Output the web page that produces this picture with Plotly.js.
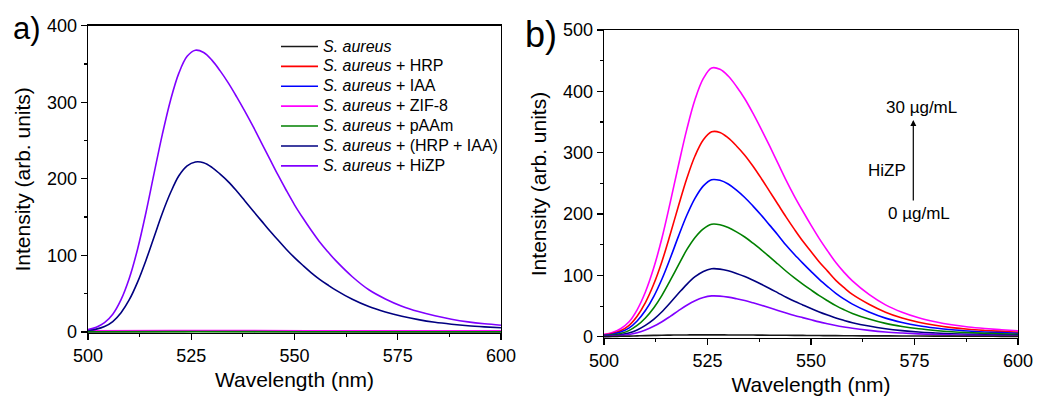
<!DOCTYPE html>
<html><head><meta charset="utf-8">
<script src="https://cdn.plot.ly/plotly-3.0.1.min.js"></script>
<style>html,body{margin:0;padding:0;background:#fff}#chart{width:1037px;height:396px}</style>
</head><body><div id="chart"></div>
<script>
// ---------- shared wavelength grid (nm) ----------
const wl = [500,502,504,506,508,510,512,514,516,518,520,522,524,526,528,530,532,534,536,538,540,542,544,546,548,550,552,554,556,558,560,564,568,572,576,580,584,588,592,596,600];

// ---------- Panel a ----------
const aHiZP = [3,6,12,23,42,70,108,155,207,258,303,338,360,368,365,355,341,325,307,288,268,247,226,205,185,166,149,133,118,105,93,72,55,43,33.5,26.5,21,16.5,13,10.5,8.7];
const aHrpIaa = [2,3.6,7,13.5,25,42,65,93,124,155,182,204,217,222,221,215,206,196,184,171,158,145,132,120,108,97,87,77.5,69,61.5,54.5,42.5,33,26,20.5,16,12.5,10,8,6.5,5.3];
const wlFlat = [500,520,526,540,560,580,600];
const aSA = [0.3,0.6,0.7,0.6,0.4,0.3,0.3];
const aHRP = [0.4,0.8,0.9,0.8,0.6,0.5,0.4];
const aIAA = [0.4,0.7,0.8,0.7,0.5,0.4,0.4];
const aZIF = [1.4,1.6,1.6,1.6,1.5,1.5,1.4];
const aPAAm = [0.2,0.3,0.3,0.3,0.2,0.2,0.2];
const namesA = ['<i>S. aureus</i>','<i>S. aureus</i> + HRP','<i>S. aureus</i> + IAA','<i>S. aureus</i> + ZIF-8','<i>S. aureus</i> + pAAm','<i>S. aureus</i> + (HRP + IAA)','<i>S. aureus</i> + HiZP'];

// ---------- Panel b (HiZP 0 → 30 µg/mL) ----------
const b30 = [4,7,13,24,44,73,112,161,219,280,338,387,421,438,436,425,408,388,364,338,311,283,255,229,205,182,160,140,121,105,91,69,52,40,31,24.5,19.5,16,13.5,11.5,9.7];
const b25 = [3,5.3,9.9,18.3,33.6,55.7,85.5,122.8,167,213.6,258,295,321,334,333,324,311,296,278,258,237,216,195,175,156,139,122,107,92,80,69,53,40,30.5,23.7,18.7,14.9,12.2,10.3,8.8,7.4];
const b20 = [2.3,4.1,7.6,14,25.7,42.7,65.5,94.2,128,164,198,226,246,256,255,249,239,227,213,198,182,166,149,134,120,106.5,93.6,81.9,70.8,61.4,53.2,40.4,30.4,23.4,18.1,14.3,11.4,9.4,7.9,6.7,5.7];
const b15 = [1.7,2.9,5.4,10,18.4,30.6,46.9,67.5,91.8,117,142,162,176,183.5,182.7,178,171,162.6,152.5,141.6,130.3,118.6,106.8,96,85.9,76.3,67,58.7,50.7,44,38.1,28.9,21.8,16.8,13,10.3,8.2,6.7,5.7,4.8,4.1];
const b10 = [1,1.8,3.3,6.1,11.1,18.5,28.3,40.7,55.4,70.8,85.5,97.9,106.5,110.8,110.3,107.5,103.2,98.2,92.1,85.5,78.7,71.6,64.5,57.9,51.9,46,40.5,35.4,30.6,26.6,23,17.5,13.2,10.1,7.8,6.2,4.9,4,3.4,2.9,2.5];
const b5 = [0.6,1.1,2,3.6,6.7,11.1,17,24.5,33.3,42.6,51.4,58.8,64,66.6,66.3,64.6,62,59,55.3,51.4,47.3,43,38.8,34.8,31.2,27.7,24.3,21.3,18.4,16,13.8,10.5,7.9,6.1,4.7,3.7,3,2.4,2.1,1.7,1.5];
const b0 = [0.3,0.5,0.8,1.1,1.5,1.9,2.2,2.5,2.7,2.9,3,3.1,3.1,3.1,3.1,3,3,2.9,2.8,2.7,2.6,2.5,2.4,2.3,2.2,2.1,2,1.9,1.8,1.7,1.6,1.5,1.4,1.3,1.2,1.1,1,0.9,0.8,0.7,0.6];

const C = {black:'#1a1a1a', red:'#ff0000', blue:'#0000ff', magenta:'#ff00ff', green:'#008000', navy:'#000080', purple:'#8000ff'};
const LW = 1.6;

function tr(x, y, color, name, xa, ya, show) {
  return {x:x, y:y, type:'scatter', mode:'lines', name:name, showlegend:show,
    line:{color:color, width:LW, shape:'spline', smoothing:1}, xaxis:xa, yaxis:ya, hoverinfo:'skip'};
}
function lg(t) { return '<span style="font-size:16px">' + t + '</span>'; }

const data = [
  tr(wlFlat, aSA, C.black, lg(namesA[0]), 'x', 'y', true),
  tr(wlFlat, aHRP, C.red, lg(namesA[1]), 'x', 'y', true),
  tr(wlFlat, aIAA, C.blue, lg(namesA[2]), 'x', 'y', true),
  tr(wlFlat, aZIF, C.magenta, lg(namesA[3]), 'x', 'y', true),
  tr(wlFlat, aPAAm, C.green, lg(namesA[4]), 'x', 'y', true),
  tr(wl, aHrpIaa, C.navy, lg(namesA[5]), 'x', 'y', true),
  tr(wl, aHiZP, C.purple, lg(namesA[6]), 'x', 'y', true),
  tr(wl, b30, C.magenta, '30', 'x2', 'y2', false),
  tr(wl, b25, C.red, '25', 'x2', 'y2', false),
  tr(wl, b20, C.blue, '20', 'x2', 'y2', false),
  tr(wl, b15, C.green, '15', 'x2', 'y2', false),
  tr(wl, b10, C.navy, '10', 'x2', 'y2', false),
  tr(wl, b5, C.purple, '5', 'x2', 'y2', false),
  tr(wl, b0, C.black, '0', 'x2', 'y2', false)
];

const FONT = 'Liberation Sans, Arial, sans-serif';
function xax(domain, anchor) {
  return {domain:domain, anchor:anchor, range:[500,600], tick0:500, dtick:25,
    ticks:'outside', ticklen:6, tickwidth:1.3, tickcolor:'#000',
    showline:true, linecolor:'#000', linewidth:1.3, mirror:true,
    showgrid:false, zeroline:false, automargin:false,
    minor:{ticks:'outside', ticklen:3, tickwidth:1.2, tickcolor:'#000', dtick:12.5, showgrid:false},
    tickfont:{size:18, family:FONT, color:'#000'},
    title:{text:'Wavelength (nm)', font:{size:21, family:FONT, color:'#000'}, standoff:7}};
}
function yax(domain, anchor, range) {
  return {domain:domain, anchor:anchor, range:range, tick0:0, dtick:100,
    ticks:'outside', ticklen:6, tickwidth:1.3, tickcolor:'#000',
    showline:true, linecolor:'#000', linewidth:1.3, mirror:true,
    showgrid:false, zeroline:false, automargin:false,
    minor:{ticks:'outside', ticklen:3, tickwidth:1.2, tickcolor:'#000', dtick:50, showgrid:false},
    tickfont:{size:18, family:FONT, color:'#000'},
    title:{text:'Intensity (arb. units)', font:{size:21, family:FONT, color:'#000'}, standoff:10}};
}

const W = 1037, H = 396;
const layout = {
  width:W, height:H, margin:{l:0, r:0, t:0, b:0},
  paper_bgcolor:'#fff', plot_bgcolor:'#fff',
  font:{family:FONT, color:'#000'},
  xaxis: xax([88/W, 501/W], 'y'),
  yaxis: yax([1-333/H, 1-25.7/H], 'x', [-1.5, 400]),
  xaxis2: xax([604/W, 1018/W], 'y2'),
  yaxis2: yax([1-338/H, 1-30/H], 'x2', [-2, 500]),
  showlegend:true,
  legend:{x:276/W, y:1-31.5/H, xanchor:'left', yanchor:'top', bgcolor:'rgba(0,0,0,0)',
    itemwidth:37, font:{size:13, family:FONT, color:'#000'}, tracegroupgap:0, borderwidth:0},
  annotations:[
    {text:'a)', x:27/W, y:1-29/H, xref:'paper', yref:'paper', showarrow:false, xanchor:'center', yanchor:'middle', font:{size:31, family:FONT, color:'#000'}},
    {text:'b)', x:541/W, y:1-35/H, xref:'paper', yref:'paper', showarrow:false, xanchor:'center', yanchor:'middle', font:{size:36, family:FONT, color:'#000'}},
    {text:'30 µg/mL', x:921/W, y:1-108/H, xref:'paper', yref:'paper', showarrow:false, xanchor:'center', yanchor:'middle', font:{size:17, family:FONT, color:'#000'}},
    {text:'HiZP', x:887/W, y:1-170/H, xref:'paper', yref:'paper', showarrow:false, xanchor:'center', yanchor:'middle', font:{size:17, family:FONT, color:'#000'}},
    {text:'0 µg/mL', x:919/W, y:1-213/H, xref:'paper', yref:'paper', showarrow:false, xanchor:'center', yanchor:'middle', font:{size:17, family:FONT, color:'#000'}},
    {text:'', x:913.3/W, y:1-120/H, xref:'paper', yref:'paper', showarrow:true, ax:0, ay:82, axref:'pixel', ayref:'pixel', arrowhead:2, arrowsize:1, arrowwidth:1.2, arrowcolor:'#000'}
  ]
};

Plotly.newPlot('chart', data, layout, {staticPlot:true, displayModeBar:false});
</script>
</body></html>
